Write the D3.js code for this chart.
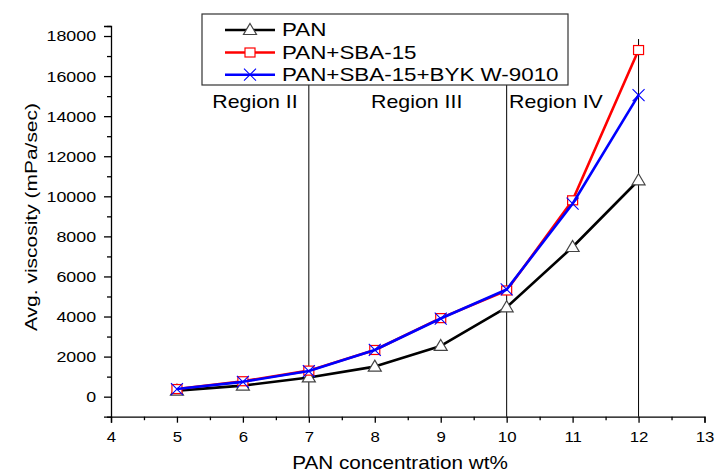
<!DOCTYPE html>
<html>
<head>
<meta charset="utf-8">
<script src="https://cdn.jsdelivr.net/npm/d3@7"></script>
<style>
  html, body { margin: 0; padding: 0; background: #fff; }
  svg { display: block; }
  text { font-family: "Liberation Sans", Arial, Helvetica, sans-serif; fill: #000; }
</style>
</head>
<body>
<svg id="chart" width="715" height="474"></svg>
<script>
// ---- data ----
const concentration = [5, 6, 7, 8, 9, 10, 11, 12];
const pan           = [300, 550, 960, 1500, 2530, 4460, 7470, 10800];
const panSba        = [380, 770, 1300, 2330, 3920, 5300, 9800, 17300];
const panSbaByk     = [380, 740, 1280, 2330, 3900, 5350, 9630, 15050];
const seriesNames   = ["PAN", "PAN+SBA-15", "PAN+SBA-15+BYK W-9010"];
const xTicks        = [4, 5, 6, 7, 8, 9, 10, 11, 12, 13];
const yTicks        = [0, 2000, 4000, 6000, 8000, 10000, 12000, 14000, 16000, 18000];
const yMinorTicks   = [-1000, 1000, 3000, 5000, 7000, 9000, 11000, 13000, 15000, 17000];
const xMinorTicks   = [4.5, 5.5, 6.5, 7.5, 8.5, 9.5, 10.5, 11.5, 12.5];
const regionLines   = [7, 10, 12];
const regionLabels  = ["Region II", "Region III", "Region IV"];
const xTitle = "PAN concentration wt%";
const yTitle = "Avg. viscosity (mPa/sec)";

const svg = d3.select("#chart");
const x = d3.scaleLinear().domain([4, 13]).range([111, 704.5]);
const y = d3.scaleLinear().domain([-1000, 18500]).range([416.7, 26]);

// stretched text helper
function stext(parent, px, py, str, size, sx, anchor) {
  const g = parent.append("g").attr("transform", `translate(${px},${py}) scale(${sx},1)`);
  return g.append("text").attr("font-size", size).attr("text-anchor", anchor || "start").text(str);
}

// ---- region vertical lines ----
svg.append("g").selectAll("line").data(regionLines).join("line")
  .attr("x1", d => x(d)).attr("x2", d => x(d))
  .attr("y1", y(17850)).attr("y2", y(-1000))
  .attr("stroke", "#000").attr("stroke-width", 1);

// ---- axes ----
const gx = svg.append("g").attr("transform", `translate(0,${y(-1000)})`)
  .call(d3.axisBottom(x).tickValues(xTicks).tickSize(6).tickPadding(9).tickFormat(d3.format("d")));
gx.selectAll("text").attr("font-size", 15).attr("transform", "scale(1.12,1)");
const gxm = svg.append("g").attr("transform", `translate(0,${y(-1000)})`)
  .call(d3.axisBottom(x).tickValues(xMinorTicks).tickSize(3.5).tickFormat(""));
gxm.select(".domain").remove();

const gy = svg.append("g").attr("transform", `translate(${x(4)},0)`)
  .call(d3.axisLeft(y).tickValues(yTicks).tickSize(7).tickPadding(6).tickFormat(d3.format("d")));
gy.selectAll("text").attr("font-size", 15.5).attr("transform", "scale(1.15,1)");
const gym = svg.append("g").attr("transform", `translate(${x(4)},0)`)
  .call(d3.axisLeft(y).tickValues(yMinorTicks.concat([18500])).tickSize(4).tickFormat(""));
gym.select(".domain").remove();
svg.selectAll(".domain, .tick line").attr("stroke", "#000").attr("stroke-width", 1.3);
svg.selectAll(".tick text").attr("fill", "#000");

// ---- series ----
const series = [
  { name: seriesNames[0], values: pan, color: "#000000", marker: "tri" },
  { name: seriesNames[1], values: panSba, color: "#ff0000", marker: "sq" },
  { name: seriesNames[2], values: panSbaByk, color: "#0000ff", marker: "x" }
];
const line = d3.line().x(d => x(d[0])).y(d => y(d[1]));

function drawMarker(g, type, cx, cy) {
  if (type === "tri") {
    g.append("path").attr("d", `M${cx},${cy - 6.5} L${cx + 6.5},${cy + 4.5} L${cx - 6.5},${cy + 4.5} Z`)
      .attr("fill", "#fff").attr("stroke", "#444").attr("stroke-width", 1.2);
  } else if (type === "sq") {
    g.append("rect").attr("x", cx - 5).attr("y", cy - 4.5).attr("width", 10).attr("height", 9)
      .attr("fill", "#fff").attr("stroke", "#ff0000").attr("stroke-width", 1.2);
  } else {
    g.append("path").attr("d", `M${cx - 6},${cy - 6} L${cx + 6},${cy + 6} M${cx - 6},${cy + 6} L${cx + 6},${cy - 6}`)
      .attr("fill", "none").attr("stroke", "#0000ff").attr("stroke-width", 1.1);
  }
}

series.forEach(s => {
  const g = svg.append("g");
  const pts = concentration.map((c, i) => [c, s.values[i]]);
  g.append("path").datum(pts).attr("d", line)
    .attr("fill", "none").attr("stroke", s.color).attr("stroke-width", 2.6).attr("stroke-linejoin", "round");
  pts.forEach(p => drawMarker(g, s.marker, x(p[0]), y(p[1])));
});

// ---- legend ----
const lg = svg.append("g");
lg.append("rect").attr("x", 202).attr("y", 14).attr("width", 366).attr("height", 71)
  .attr("fill", "#fff").attr("stroke", "#333").attr("stroke-width", 1.2);
const rowsY = [30, 52.5, 74.7];
series.forEach((s, i) => {
  lg.append("line").attr("x1", 225).attr("x2", 275).attr("y1", rowsY[i]).attr("y2", rowsY[i])
    .attr("stroke", s.color).attr("stroke-width", 2.6);
  drawMarker(lg, s.marker, 250, rowsY[i]);
  stext(lg, 282, rowsY[i] + 6.3, s.name, 17.5, 1.28, "start");
});

// ---- region labels ----
const regionPos = [255, 416.7, 556];
regionLabels.forEach((r, i) => stext(svg, regionPos[i], 107.5, r, 17.5, 1.22, "middle"));

// ---- axis titles ----
stext(svg, 400, 469, xTitle, 18, 1.15, "middle");
svg.append("text").attr("transform", "translate(37,217) rotate(-90)")
  .attr("font-size", 17).attr("text-anchor", "middle")
  .attr("textLength", 228).attr("lengthAdjust", "spacingAndGlyphs").text(yTitle);
</script>
</body>
</html>
